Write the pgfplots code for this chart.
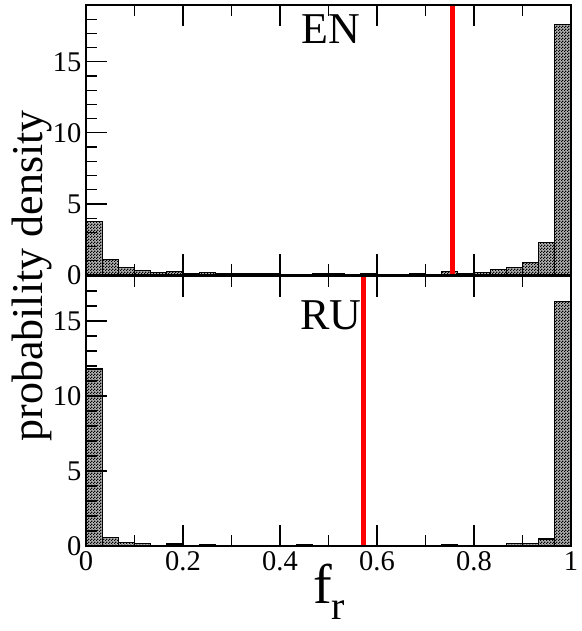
\documentclass[border=0pt]{standalone}
\usepackage{pgfplots}
\pgfplotsset{compat=1.18}
\usepackage{pgfplotstable}
\usepackage{fontspec}
\setmainfont{Liberation Serif}
\usetikzlibrary{patterns}

% fine checker fill, like the grace pattern
\pgfdeclarepatternformonly{fine}{\pgfpointorigin}{\pgfpoint{3pt}{3pt}}{\pgfpoint{3pt}{3pt}}{%
  \pgfpathrectangle{\pgfpointorigin}{\pgfpoint{1.5pt}{1.5pt}}%
  \pgfpathrectangle{\pgfpoint{1.5pt}{1.5pt}}{\pgfpoint{1.5pt}{1.5pt}}%
  \pgfusepath{fill}}

% 30 bins on [0,1], left edges
\pgfplotstableread{
x y
0.00000 3.75
0.03333 1.10
0.06667 0.55
0.10000 0.30
0.13333 0.15
0.16667 0.22
0.20000 0.10
0.23333 0.18
0.26667 0.08
0.30000 0.10
0.33333 0.12
0.36667 0.08
0.40000 0.05
0.43333 0.03
0.46667 0.10
0.50000 0.08
0.53333 0.03
0.56667 0.12
0.60000 0.02
0.63333 0.02
0.66667 0.08
0.70000 0.05
0.73333 0.23
0.76667 0.10
0.80000 0.19
0.83333 0.40
0.86667 0.52
0.90000 0.89
0.93333 2.27
0.96667 17.60
1.00000 17.60
}\en

\pgfplotstableread{
x y
0.00000 11.80
0.03333 0.58
0.06667 0.25
0.10000 0.18
0.13333 0.02
0.16667 0.13
0.20000 0.03
0.23333 0.06
0.26667 0.02
0.30000 0.03
0.33333 0.02
0.36667 0.02
0.40000 0.01
0.43333 0.10
0.46667 0.02
0.50000 0.02
0.53333 0.01
0.56667 0.01
0.60000 0.02
0.63333 0.05
0.66667 0.02
0.70000 0.01
0.73333 0.07
0.76667 0.02
0.80000 0.01
0.83333 0.02
0.86667 0.15
0.90000 0.15
0.93333 0.47
0.96667 16.30
1.00000 16.30
}\ru

\pgfplotsset{
  panel/.style={
    scale only axis, width=485pt, height=270pt,
    xmin=0, xmax=1, ymin=0,
    xtick={0,0.2,0.4,0.6,0.8,1}, minor xtick={0.1,0.3,0.5,0.7,0.9},
    ytick={0,5,10,15}, minor ytick={1,2,3,4,6,7,8,9,11,12,13,14,16,17,18},
    tick align=inside, xtick pos=both, ytick pos=left,
    major tick length=21pt, minor tick length=11pt,
    axis line style={line width=1.5pt},
    every tick/.style={black, line width=1.2pt},
    tick label style={font=\fontsize{28.5}{28.5}\selectfont},
    /pgf/number format/assume math mode=true,
    yticklabel style={xshift=-1pt},
    axis on top,
  },
  hist/.style={ybar interval, draw=black, line width=1.2pt, fill=black!30,
    postaction={pattern=fine, pattern color=black}},
  mark/.style={red, line width=5pt},
}

\begin{document}
\begin{tikzpicture}
\useasboundingbox (-86pt,-85pt) rectangle (495pt,546pt);
\begin{axis}[panel, name=ru, ymax=18, xticklabel pos=bottom,
  xticklabel style={yshift=-2pt}]
\addplot[hist] table {\ru};
\addplot[mark] coordinates {(0.572,0) (0.572,18)};
\node[font=\fontsize{44}{44}\selectfont] at (rel axis cs:0.505,0.855) {RU};
\end{axis}
\begin{axis}[panel, at={(0,271pt)}, ymax=19, xticklabels={}]
\addplot[hist] table {\en};
\addplot[mark] coordinates {(0.755,0) (0.755,19)};
\node[font=\fontsize{44}{44}\selectfont] at (rel axis cs:0.505,0.91) {EN};
\end{axis}
\node[rotate=90, font=\fontsize{44}{44}\selectfont] at (-54pt,270pt) {probability density};
\node[anchor=base, font=\fontsize{56}{56}\selectfont, inner sep=0pt] at (243pt,-57pt) {f\raisebox{-0.3em}{\fontsize{40}{40}\selectfont r}};
\end{tikzpicture}
\end{document}
